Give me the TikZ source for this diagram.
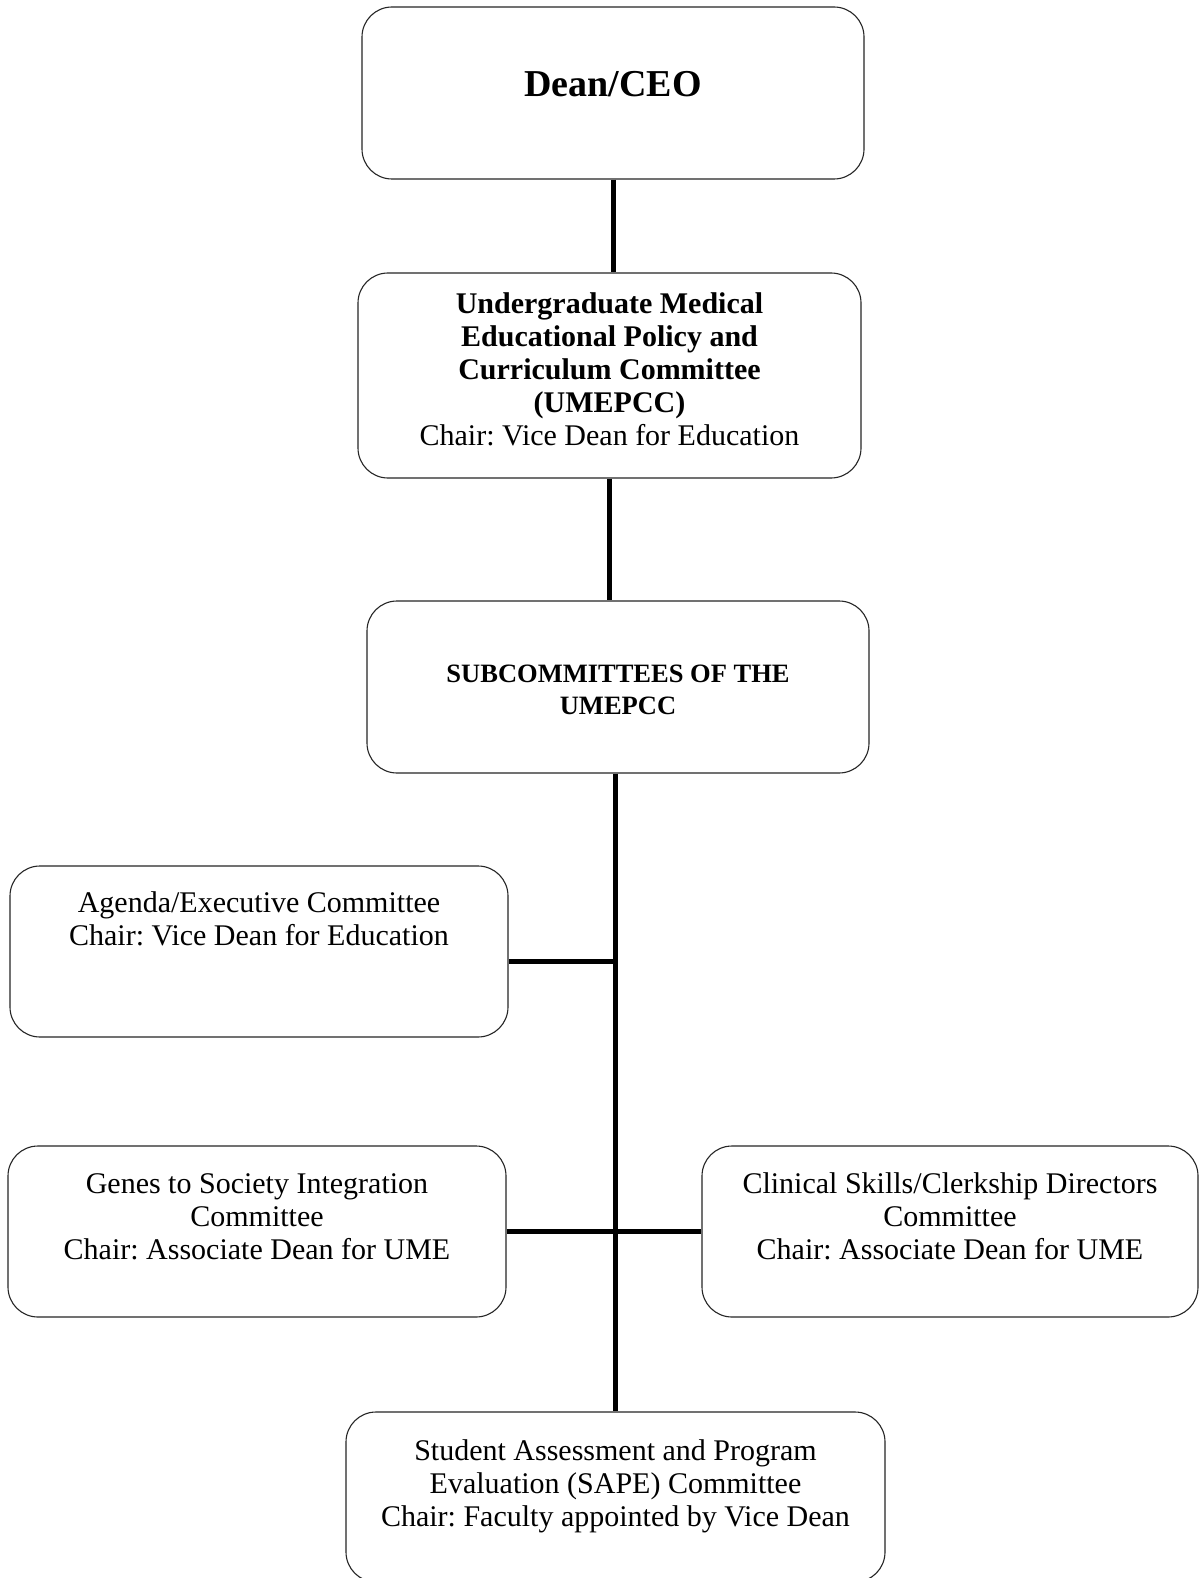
\documentclass[tikz,border=0pt]{standalone}
\usepackage{fontspec}
\setmainfont{Liberation Serif}
\frenchspacing

% text block of a box: fixed height, lines set from the top
\newcommand{\boxtext}[4]{\parbox[c][#1][t]{#2}{\centering\vspace*{#3}\strut #4\par}}

\begin{document}
\begin{tikzpicture}[x=1pt,y=-1pt,line join=round,
    unit/.style={draw=black!85,line width=1.1pt,rounded corners=30pt,inner sep=0pt,fill=white},
    plain/.style={font=\fontsize{30}{33}\selectfont},
    link/.style={line width=5pt}]
    \useasboundingbox (0,0) rectangle (1199,1578);
    \fill[white] (0,0) rectangle (1199,1578);
    % ============ Upper chain ============
    \node[unit,font=\fontsize{38}{42}\selectfont\bfseries] (dean) at (613,93)
      {\boxtext{172pt}{502pt}{60.6pt}{Dean/CEO}};
    \node[unit,plain] (umepcc) at (609.5,375.5)
      {\boxtext{205pt}{503pt}{16.9pt}{\textbf{Undergraduate Medical}\\
        \textbf{Educational Policy and}\\\textbf{Curriculum Committee}\\
        \textbf{(UMEPCC)}\\Chair: Vice Dean for Education}};
    \node[unit,font=\fontsize{26.5}{32}\selectfont\bfseries] (sub) at (618,687)
      {\boxtext{172pt}{502pt}{58.6pt}{SUBCOMMITTEES OF THE\\UMEPCC}};
    % ============ Subcommittees ============
    \node[unit,plain] (agenda) at (259,951.5)
      {\boxtext{171pt}{498pt}{22.9pt}{Agenda/Executive Committee\\
        Chair: Vice Dean for Education}};
    \node[unit,plain] (genes) at (257,1231.5)
      {\boxtext{171pt}{498pt}{23.9pt}{Genes to Society Integration\\
        Committee\\Chair: Associate Dean for UME}};
    \node[unit,plain] (clinical) at (950,1231.5)
      {\boxtext{171pt}{496pt}{23.9pt}{Clinical Skills/Clerkship Directors\\
        Committee\\Chair: Associate Dean for UME}};
    \node[unit,plain] (sape) at (615.5,1497)
      {\boxtext{170pt}{539pt}{25pt}{Student Assessment and Program\\
        Evaluation (SAPE) Committee\\Chair: Faculty appointed by Vice Dean}};
    % ============ Connectors ============
    \draw[link] (dean.south) -- (dean.south |- umepcc.north);
    \draw[link] (umepcc.south) -- (umepcc.south |- sub.north);
    \draw[link] (sub.south -| sape.north) -- (sape.north);
    \coordinate (aj) at ([yshift=-10pt]agenda.east);
    \draw[link] (aj) -- (aj -| sape.north);
    \draw[link] (genes.east) -- (clinical.west);
\end{tikzpicture}
\end{document}
